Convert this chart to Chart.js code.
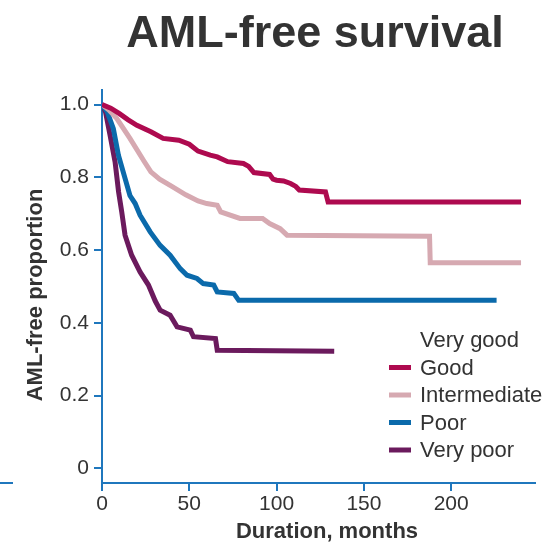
<!DOCTYPE html>
<html>
<head>
<meta charset="utf-8">
<title>AML-free survival</title>
<script src="https://cdn.jsdelivr.net/npm/chart.js@4"></script>
<style>
    html, body { margin: 0; padding: 0; background: #fff; }
    #wrap { width: 549px; height: 544px; }
</style>
</head>
<body>
<div id="wrap"><canvas id="survivalChart" width="549" height="544"></canvas></div>
<script>
// Kaplan-Meier style curves, months vs AML-free proportion
const goodMonths = [0, 5, 10, 15, 20, 28, 35, 44, 50, 55, 62, 66, 72, 81, 84, 87, 96, 98, 100, 104, 108, 111, 113, 128, 129.5, 240];
const goodSurv   = [1.0, 0.99, 0.975, 0.958, 0.943, 0.925, 0.907, 0.902, 0.891, 0.872, 0.861, 0.856, 0.843, 0.838, 0.83, 0.813, 0.808, 0.795, 0.792, 0.79, 0.783, 0.775, 0.765, 0.76, 0.732, 0.732];

const interMonths = [0, 4, 8.4, 16, 24, 28, 33, 40, 48, 55, 60, 66, 68, 79, 92, 96, 102, 106, 187.6, 188, 240];
const interSurv   = [1.0, 0.985, 0.962, 0.907, 0.845, 0.815, 0.795, 0.775, 0.752, 0.735, 0.728, 0.723, 0.705, 0.687, 0.687, 0.673, 0.659, 0.641, 0.638, 0.565, 0.565];

const poorMonths = [0, 3, 6.5, 9.4, 13.2, 16, 19, 21.8, 27.6, 33.3, 39, 44.8, 48.7, 54.4, 58, 64, 66, 75.5, 78.3, 226];
const poorSurv   = [1.0, 0.98, 0.934, 0.861, 0.797, 0.75, 0.728, 0.696, 0.65, 0.613, 0.586, 0.549, 0.531, 0.522, 0.508, 0.504, 0.485, 0.481, 0.462, 0.462];

const vpoorMonths = [0, 2, 4.6, 7.5, 9.5, 11.3, 13.2, 17, 21.8, 26.6, 30.5, 33.3, 39, 43, 50.6, 52.4, 65, 66, 133];
const vpoorSurv   = [1.0, 0.98, 0.916, 0.842, 0.76, 0.705, 0.641, 0.586, 0.54, 0.504, 0.46, 0.435, 0.421, 0.389, 0.38, 0.362, 0.357, 0.325, 0.322];

const xTicks = [0, 50, 100, 150, 200];
const yTicks = [0, 0.2, 0.4, 0.6, 0.8, 1.0];

const legendNames  = ['Very good', 'Good', 'Intermediate', 'Poor', 'Very poor'];
const legendColors = [null, '#ae0a4f', '#d6a9b1', '#0b6aab', '#6b1a5d'];

const axisBlue = '#1f77bd';
const textGray = '#333333';
const FONT = '"Liberation Sans", Arial, sans-serif';

function toPoints(months, surv) {
    return months.map((m, i) => ({ x: m, y: surv[i] }));
}

function makeDataset(label, months, surv, color) {
    return {
        label: label,
        data: toPoints(months, surv),
        borderColor: color,
        backgroundColor: color,
        borderWidth: 5,
        pointRadius: 0,
        tension: 0,
        fill: false
    };
}

// titles, legend and the little stray rule are painted straight on the canvas
const decorations = {
    id: 'decorations',
    afterDraw(chart) {
        const ctx = chart.ctx;
        const area = chart.chartArea;
        ctx.save();
        ctx.fillStyle = textGray;

        ctx.font = 'bold 45px ' + FONT;
        ctx.textAlign = 'center';
        ctx.textBaseline = 'alphabetic';
        ctx.fillText('AML-free survival', 315, 47);

        ctx.font = 'bold 22px ' + FONT;
        ctx.fillText('Duration, months', 327, 538);

        ctx.save();
        ctx.translate(42, 295);
        ctx.rotate(-Math.PI / 2);
        ctx.fillText('AML-free proportion', 0, 0);
        ctx.restore();

        ctx.font = '22px ' + FONT;
        ctx.textAlign = 'left';
        legendNames.forEach((name, i) => {
            const cy = 339 + i * 27.5;
            if (legendColors[i]) {
                ctx.strokeStyle = legendColors[i];
                ctx.lineWidth = 5;
                ctx.beginPath();
                ctx.moveTo(389, cy + 1);
                ctx.lineTo(411, cy + 1);
                ctx.stroke();
            }
            ctx.fillText(name, 420, cy + 8);
        });

        ctx.strokeStyle = axisBlue;
        ctx.lineWidth = 2;
        ctx.beginPath();
        ctx.moveTo(0, area.bottom);
        ctx.lineTo(13, area.bottom);
        ctx.stroke();
        ctx.restore();
    }
};

const ctx = document.getElementById('survivalChart').getContext('2d');
new Chart(ctx, {
    type: 'line',
    data: {
        datasets: [
            makeDataset('Good', goodMonths, goodSurv, legendColors[1]),
            makeDataset('Intermediate', interMonths, interSurv, legendColors[2]),
            makeDataset('Poor', poorMonths, poorSurv, legendColors[3]),
            makeDataset('Very poor', vpoorMonths, vpoorSurv, legendColors[4])
        ]
    },
    options: {
        responsive: false,
        animation: false,
        layout: { padding: { top: 90, right: 14, left: 0, bottom: 0 } },
        plugins: {
            legend: { display: false },
            title: { display: false },
            tooltip: { enabled: false }
        },
        scales: {
            x: {
                type: 'linear',
                min: 0,
                max: 248,
                afterFit(scale) { scale.height = 61; },
                afterBuildTicks(scale) { scale.ticks = xTicks.map(v => ({ value: v })); },
                ticks: {
                    color: textGray,
                    font: { family: FONT, size: 21 },
                    padding: 1,
                    maxRotation: 0,
                    autoSkip: false
                },
                grid: { drawOnChartArea: false, drawTicks: true, tickLength: 8, color: axisBlue, lineWidth: 2 },
                border: { color: axisBlue, width: 2 }
            },
            y: {
                min: -0.04,
                max: 1.04,
                afterFit(scale) { scale.width = 102; },
                afterBuildTicks(scale) { scale.ticks = yTicks.map(v => ({ value: v })); },
                ticks: {
                    color: textGray,
                    font: { family: FONT, size: 21 },
                    padding: 5,
                    callback: v => v === 0 ? '0' : v.toFixed(1)
                },
                grid: { drawOnChartArea: false, drawTicks: true, tickLength: 8, color: axisBlue, lineWidth: 2 },
                border: { color: axisBlue, width: 2 }
            }
        }
    },
    plugins: [decorations]
});
</script>
</body>
</html>
